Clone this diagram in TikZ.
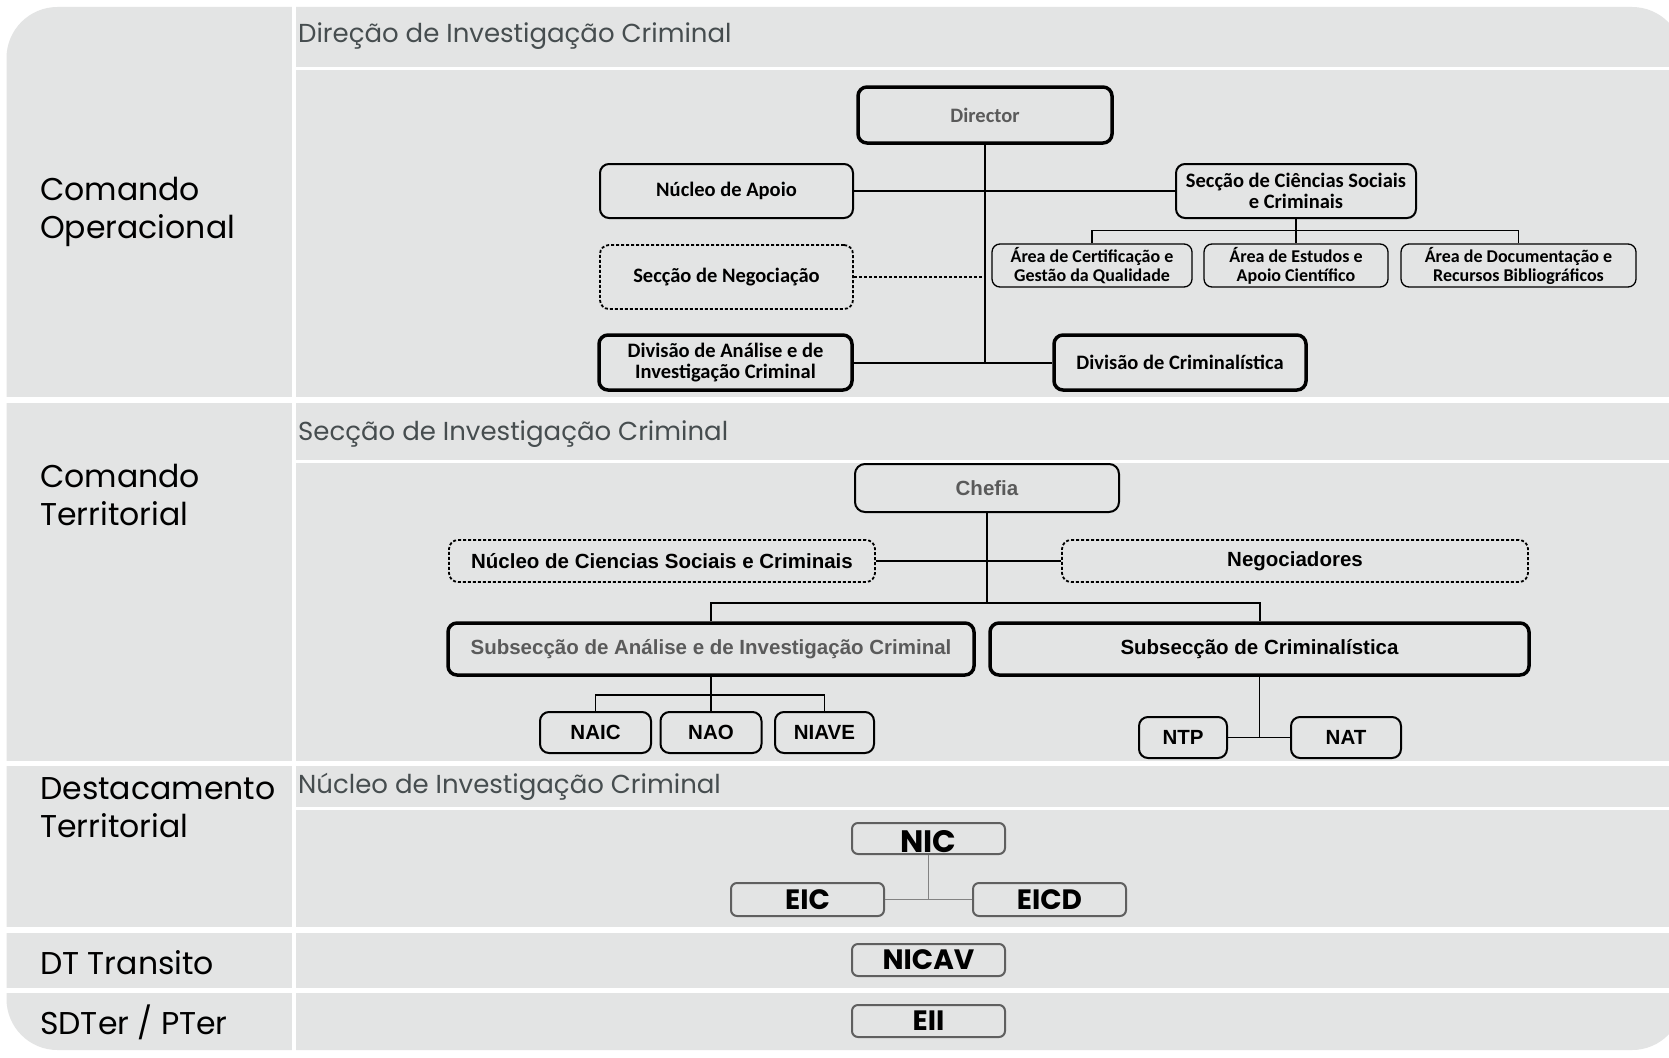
\documentclass[tikz,border=0pt]{standalone}
\usepackage{fontspec}
\newfontfamily\gothic{Poppins}
\newfontfamily\calib{Carlito}
\newfontfamily\arial{Liberation Sans}
\definecolor{panel}{RGB}{227,228,228}
\definecolor{headtxt}{RGB}{70,77,79}
\definecolor{greytxt}{RGB}{90,90,90}
\definecolor{nicline}{RGB}{95,95,95}
\definecolor{niccon}{RGB}{130,130,130}
\tikzset{
  rowlabel/.style={anchor=base west, inner sep=0, align=left, text=black,
    font=\gothic\fontsize{31.5}{38}\selectfont},
  headlabel/.style={anchor=base west, inner sep=0, text=headtxt,
    font=\gothic\fontsize{26}{30}\selectfont},
  orgbox/.style={draw=black, fill=panel, inner sep=0, align=center, rounded corners=9pt},
  heavybox/.style={orgbox, line width=3.5pt},
  midbox/.style={orgbox, line width=2pt},
  lightbox/.style={orgbox, line width=1.3pt, rounded corners=8pt},
  dotbox/.style={orgbox, line width=1.8pt, dash pattern=on 3pt off 2pt},
  calfont/.style={font=\calib\bfseries\fontsize{20.5}{21}\selectfont},
  calsmall/.style={font=\calib\bfseries\fontsize{18}{19}\selectfont},
  arfont/.style={font=\arial\bfseries\fontsize{20.5}{24}\selectfont},
  nicbox/.style={draw=nicline, fill=panel, inner sep=0, line width=2pt, rounded corners=6pt,
    font=\gothic\bfseries\fontsize{28}{30}\selectfont, minimum width=153pt},
  link/.style={draw=black, line width=2pt},
  thinlink/.style={draw=black, line width=1.3pt},
  niclink/.style={draw=niccon, line width=1.6pt}
}
\begin{document}
\begin{tikzpicture}[x=1pt,y=-1pt]
\useasboundingbox (0,0) rectangle (1669,1057);
\fill[white] (0,0) rectangle (1669,1057);
% grey panel with rounded outer corners
\begin{scope}
  \clip (0,0) rectangle (1669,1057);
  \fill[panel, rounded corners=51pt] (6.5,7) rectangle (1683,1050);
\end{scope}
% white gaps between the bands
\fill[white] (0,397) rectangle (1669,403);
\fill[white] (0,761) rectangle (1669,766);
\fill[white] (0,927) rectangle (1669,933);
\fill[white] (0,988) rectangle (1669,993);
\fill[white] (292,0) rectangle (295.5,1057);
\fill[white] (295,66.5) rectangle (1669,69.5);
\fill[white] (295,459.5) rectangle (1669,462.5);
\fill[white] (295,807) rectangle (1669,810);

% band labels (anchored at the baseline of the last line)
\node[rowlabel] (lab1) at (40,238) {Comando\\Operacional};
\node[rowlabel] (lab2) at (40,525) {Comando\\Territorial};
\node[rowlabel] (lab3) at (40,837) {Destacamento\\Territorial};
\node[rowlabel] (lab4) at (40,974) {DT Transito};
\node[rowlabel] (lab5) at (40,1034) {SDTer / PTer};

\node[headlabel] (head1) at (298,43) {Direção de Investigação Criminal};
\node[headlabel] (head2) at (298,440) {Secção de Investigação Criminal};
\node[headlabel] (head3) at (298,793) {Núcleo de Investigação Criminal};

% ---- Direção de Investigação Criminal
\node[heavybox, calfont, text=greytxt, minimum width=254pt, minimum height=56pt] (dir) at (985,115) {Director};
\node[midbox, calfont, minimum width=253pt, minimum height=54pt] (apoio) at (726.5,191) {Núcleo de Apoio};
\node[dotbox, calfont, minimum width=253pt, minimum height=64pt] (negoc) at (726.5,277) {Secção de Negociação};
\node[heavybox, calfont, minimum width=253pt, minimum height=55pt] (dai) at (725.5,362.5) {Divisão de Análise e de\\Investigação Criminal};
\node[midbox, calfont, minimum width=240pt, minimum height=54pt] (csc) at (1296,191) {Secção de Ciências Sociais\\e Criminais};
\node[lightbox, calsmall, minimum width=200pt, minimum height=43pt] (acert) at (1092,265.5) {Área de Certificação e\\Gestão da Qualidade};
\node[lightbox, calsmall, minimum width=184pt, minimum height=43pt] (aest) at (1296,265.5) {Área de Estudos e\\Apoio Científico};
\node[lightbox, calsmall, minimum width=235pt, minimum height=43pt] (adoc) at (1518.5,265.5) {Área de Documentação e\\Recursos Bibliográficos};
\node[heavybox, calfont, minimum width=252pt, minimum height=55pt] (dcrim) at (1180,362.5) {Divisão de Criminalística};

\draw[link] (dir.south) -- (dir.south |- dai.east);
\draw[link] (dai.east) -- (dcrim.west);
\draw[link] (apoio.east) -- (csc.west);
\draw[black, line width=1.5pt, dash pattern=on 3pt off 2pt] (negoc.east) -- (negoc.east -| dir.south);
\draw[thinlink] (csc.south) -- (aest.north);
\draw[thinlink] (acert.north) -- ++(0,-13) -| (adoc.north);

% ---- Secção de Investigação Criminal
\node[midbox, arfont, text=greytxt, minimum width=264pt, minimum height=48pt, rounded corners=10pt] (chefia) at (987,488) {Chefia};
\node[dotbox, arfont, minimum width=426pt, minimum height=42pt] (ncsc) at (662,561) {Núcleo de Ciencias Sociais e Criminais};
\node[dotbox, arfont, minimum width=466pt, minimum height=42pt] (negd) at (1295,561) {Negociadores};
\node[heavybox, arfont, text=greytxt, minimum width=526pt, minimum height=52pt] (sai) at (711,649) {Subsecção de Análise e de Investigação Criminal};
\node[heavybox, arfont, minimum width=539pt, minimum height=52pt] (scrim) at (1259.5,649) {Subsecção de Criminalística};
\node[midbox, arfont, minimum width=111pt, minimum height=41pt] (naic) at (595.5,732.5) {NAIC};
\node[midbox, arfont, minimum width=101pt, minimum height=41pt] (nao) at (711,732.5) {NAO};
\node[midbox, arfont, minimum width=99pt, minimum height=41pt] (niave) at (824.5,732.5) {NIAVE};
\node[midbox, arfont, minimum width=88pt, minimum height=41pt] (ntp) at (1183,737.5) {NTP};
\node[midbox, arfont, minimum width=110pt, minimum height=41pt] (nat) at (1346,737.5) {NAT};

\coordinate (sjoin) at (987,603);
\draw[link] (chefia.south) -- (sjoin);
\draw[link] (ncsc.east) -- (negd.west);
\draw[link] (sai.north) -- (sai.north |- sjoin) -| (scrim.north);
\draw[thinlink, line width=1.5pt] (sai.south) -- (nao.north);
\draw[thinlink, line width=1.5pt] (naic.north) -- ++(0,-16) -| (niave.north);
\draw[thinlink, line width=1.5pt] (scrim.south) -- (scrim.south |- ntp.east);
\draw[thinlink, line width=1.5pt] (ntp.east) -- (nat.west);

% ---- Núcleo de Investigação Criminal and below
\node[nicbox, minimum height=31pt, text height=27pt, text depth=0pt,
  font=\gothic\bfseries\fontsize{31}{32}\selectfont] (nic) at (928.5,838.5) {NIC};
\node[nicbox, minimum height=33pt] (eic) at (807.5,899.5) {EIC};
\node[nicbox, minimum height=33pt] (eicd) at (1049.5,899.5) {EICD};
\node[nicbox, minimum height=32pt] (nicav) at (928.5,960) {NICAV};
\node[nicbox, minimum height=32pt] (eii) at (928.5,1021) {EII};
\draw[niclink] (nic.south) -- (nic.south |- eic.east);
\draw[niclink] (eic.east) -- (eicd.west);
\end{tikzpicture}
\end{document}
